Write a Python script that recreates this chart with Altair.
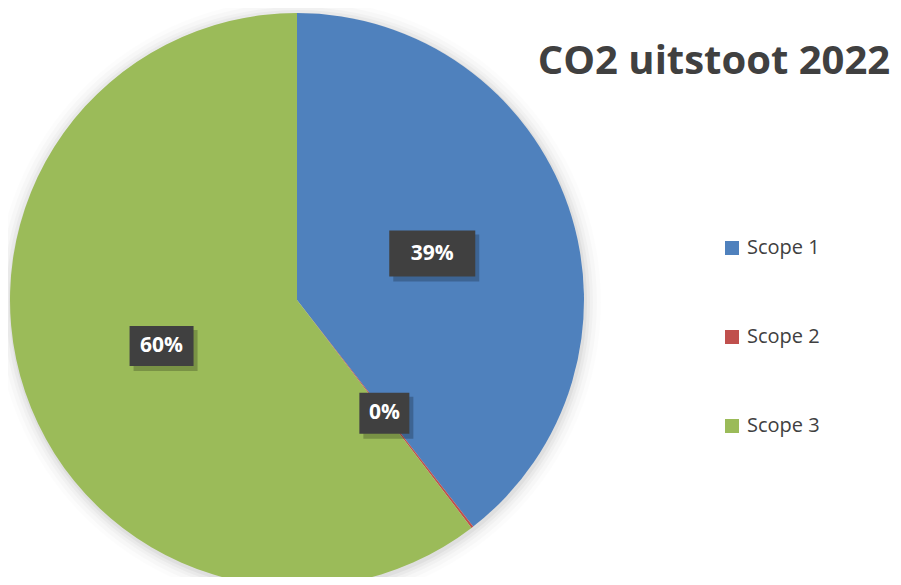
import altair as alt
import pandas as pd

categories = ["Scope 1", "Scope 2", "Scope 3"]
values = [39.48, 0.12, 60.40]
labels = ["39%", "0%", "60%"]
colors = ["#4F81BD", "#C0504D", "#9BBB59"]
order = [1, 2, 3]

# label box sizes (style)
box_w = [86, 50, 64]
box_h = [46, 41, 40]

df = pd.DataFrame({"cat": categories, "value": values, "label": labels, "ord": order,
                   "bw": box_w, "bh": box_h})

CX, CY, R, LR = 289, 292, 287, 143

base = alt.Chart(df)

shadow_layers = []
for dr, op in [(16, 0.012), (12, 0.018), (8, 0.025), (5, 0.03), (2, 0.04)]:
    shadow_layers.append(
        alt.Chart(pd.DataFrame({"a": [1]})).mark_arc(
            radius=R + dr, theta=0, theta2=6.2832, color="#000000", opacity=op
        ).encode(x=alt.value(CX + 1), y=alt.value(CY + 2))
    )

pie = base.mark_arc(radius=R).encode(
    theta=alt.Theta("value:Q", stack=True),
    order=alt.Order("ord:Q"),
    color=alt.Color(
        "cat:N",
        scale=alt.Scale(domain=categories, range=colors),
        legend=alt.Legend(
            title=None, orient="none", legendX=714, legendY=230,
            symbolType="square", symbolSize=196, symbolStrokeWidth=0,
            labelFontSize=20, labelFont="Open Sans", labelColor="#404040",
            rowPadding=69, padding=0, labelOffset=5,
        ),
    ),
    x=alt.value(CX), y=alt.value(CY),
)

pos = base.transform_joinaggregate(total="sum(value)").transform_window(
    cum="sum(value)", sort=[alt.SortField("ord")], frame=[None, 0]
).transform_calculate(
    mid="(datum.cum - datum.value/2)/datum.total*2*PI",
    lx=f"{CX} + {LR}*sin(datum.mid)",
    ly=f"{CY} - {LR}*cos(datum.mid)",
    x1="datum.lx - datum.bw/2", x2="datum.lx + datum.bw/2",
    y1="datum.ly - datum.bh/2", y2="datum.ly + datum.bh/2",
    sx1="datum.x1 + 4", sx2="datum.x2 + 4", sy1="datum.y1 + 4", sy2="datum.y2 + 5",
)

box_shadow = pos.mark_rect(color="#000000", opacity=0.22).encode(
    x=alt.X("sx1:Q", scale=None, axis=None), x2="sx2:Q",
    y=alt.Y("sy1:Q", scale=None, axis=None), y2="sy2:Q",
)
box = pos.mark_rect(color="#404040").encode(
    x=alt.X("x1:Q", scale=None, axis=None), x2="x2:Q",
    y=alt.Y("y1:Q", scale=None, axis=None), y2="y2:Q",
)
txt = pos.mark_text(color="white", font="Open Sans", fontWeight="bold", fontSize=21,
                    align="center", baseline="middle").encode(
    x=alt.X("lx:Q", scale=None, axis=None), y=alt.Y("ly:Q", scale=None, axis=None),
    text="label:N",
)

title = alt.Chart(pd.DataFrame({"t": ["CO2 uitstoot 2022"]})).mark_text(
    font="Open Sans", fontWeight="bold", fontSize=40, color="#404040",
    align="center", baseline="alphabetic",
).encode(x=alt.value(706), y=alt.value(66), text="t:N")

chart = alt.layer(*shadow_layers, pie, box_shadow, box, txt, title).properties(
    width=885, height=569, padding=0, autosize="none", background="white",
).configure_view(strokeWidth=0, stroke="transparent")

chart.save("out.html", embed_options={"renderer": "svg", "actions": False})
